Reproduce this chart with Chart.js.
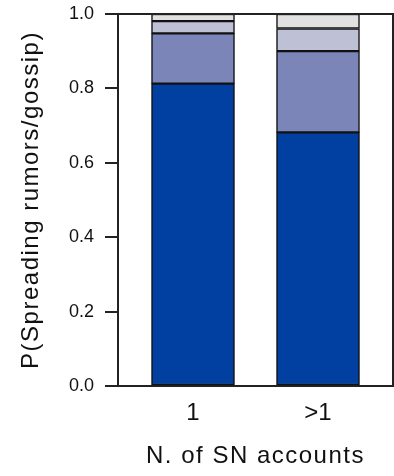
<!DOCTYPE html>
<html>
<head>
<meta charset="utf-8">
<script src="https://cdn.jsdelivr.net/npm/chart.js@4"></script>
<style>
    html, body { margin: 0; padding: 0; background: #fff; }
    #wrap { width: 394px; height: 476px; position: relative; }
</style>
</head>
<body>
<div id="wrap"><canvas id="rumorChart"></canvas></div>
<script>
// Share of answers per group, stacked from the most frequent answer upward
const accountGroups = ['1', '>1'];
const answerLevel1 = [0.813, 0.682];
const answerLevel2 = [0.135, 0.218];
const answerLevel3 = [0.033, 0.061];
const answerLevel4 = [0.019, 0.039];
const yTicks = [0, 0.2, 0.4, 0.6, 0.8, 1.0];

const levelColors = ['#0140a0', '#7b85b8', '#bec1d6', '#e1e1e1'];

// Closes the plot frame on the top and right sides
const frameBox = {
    id: 'frameBox',
    afterDraw(chart) {
        const { ctx, chartArea } = chart;
        ctx.save();
        ctx.strokeStyle = '#222';
        ctx.lineWidth = 2;
        ctx.beginPath();
        ctx.moveTo(chartArea.left, chartArea.top);
        ctx.lineTo(chartArea.right, chartArea.top);
        ctx.lineTo(chartArea.right, chartArea.bottom);
        ctx.stroke();
        ctx.restore();
    }
};

// Axis titles are set a little wider than the tick labels
const spacedTitles = {
    id: 'spacedTitles',
    afterLayout(chart) {
        Object.values(chart.scales).forEach(scale => {
            if (scale._spacedTitle) return;
            const drawTitle = scale.drawTitle;
            scale.drawTitle = function() {
                this.ctx.save();
                this.ctx.letterSpacing = '1.5px';
                drawTitle.apply(this, arguments);
                this.ctx.restore();
            };
            scale._spacedTitle = true;
        });
    }
};

document.addEventListener('DOMContentLoaded', function() {
    const ctx = document.getElementById('rumorChart').getContext('2d');

    const toPoints = values => values.map((v, i) => ({ x: i + 1, y: v }));
    const levels = [answerLevel1, answerLevel2, answerLevel3, answerLevel4];

    new Chart(ctx, {
        type: 'bar',
        data: {
            datasets: levels.map((values, i) => ({
                data: toPoints(values),
                backgroundColor: levelColors[i],
                borderColor: '#111',
                borderWidth: 1.5,
                borderSkipped: false,
                barThickness: 83,
                grouped: false
            }))
        },
        options: {
            responsive: true,
            maintainAspectRatio: false,
            animation: false,
            layout: { padding: { top: 14, right: 1, left: 0, bottom: 0 } },
            plugins: {
                legend: { display: false },
                tooltip: { enabled: false }
            },
            scales: {
                x: {
                    type: 'linear',
                    offset: false,
                    min: 0.4,
                    max: 2.6,
                    afterBuildTicks: scale => {
                        scale.ticks = accountGroups.map((g, i) => ({ value: i + 1 }));
                    },
                    afterFit: scale => { scale.height = 90; },
                    grid: { display: false },
                    border: { display: true, color: '#222', width: 2 },
                    ticks: {
                        color: '#111',
                        padding: 5,
                        font: { family: 'Liberation Sans', size: 24 },
                        callback: v => accountGroups[v - 1]
                    },
                    title: {
                        display: true,
                        text: 'N. of SN accounts',
                        color: '#111',
                        font: { family: 'Liberation Sans', size: 24 },
                        padding: { top: 4, bottom: 5 }
                    }
                },
                y: {
                    stacked: true,
                    min: 0,
                    max: 1,
                    afterBuildTicks: scale => {
                        scale.ticks = yTicks.map(v => ({ value: v }));
                    },
                    afterFit: scale => {
                        scale.width = 118;
                        scale.paddingTop = 0;
                        scale.paddingBottom = 0;
                    },
                    grid: {
                        drawOnChartArea: false,
                        drawTicks: true,
                        tickLength: 13,
                        color: '#222',
                        lineWidth: 2
                    },
                    border: { display: true, color: '#222', width: 2 },
                    ticks: {
                        color: '#111',
                        padding: 11,
                        font: { family: 'Liberation Sans', size: 18 },
                        callback: v => v.toFixed(1)
                    },
                    title: {
                        display: true,
                        text: 'P(Spreading rumors/gossip)',
                        color: '#111',
                        font: { family: 'Liberation Sans', size: 24 },
                        padding: { top: 17, bottom: 0 }
                    }
                }
            }
        },
        plugins: [frameBox, spacedTitles]
    });
});
</script>
</body>
</html>
